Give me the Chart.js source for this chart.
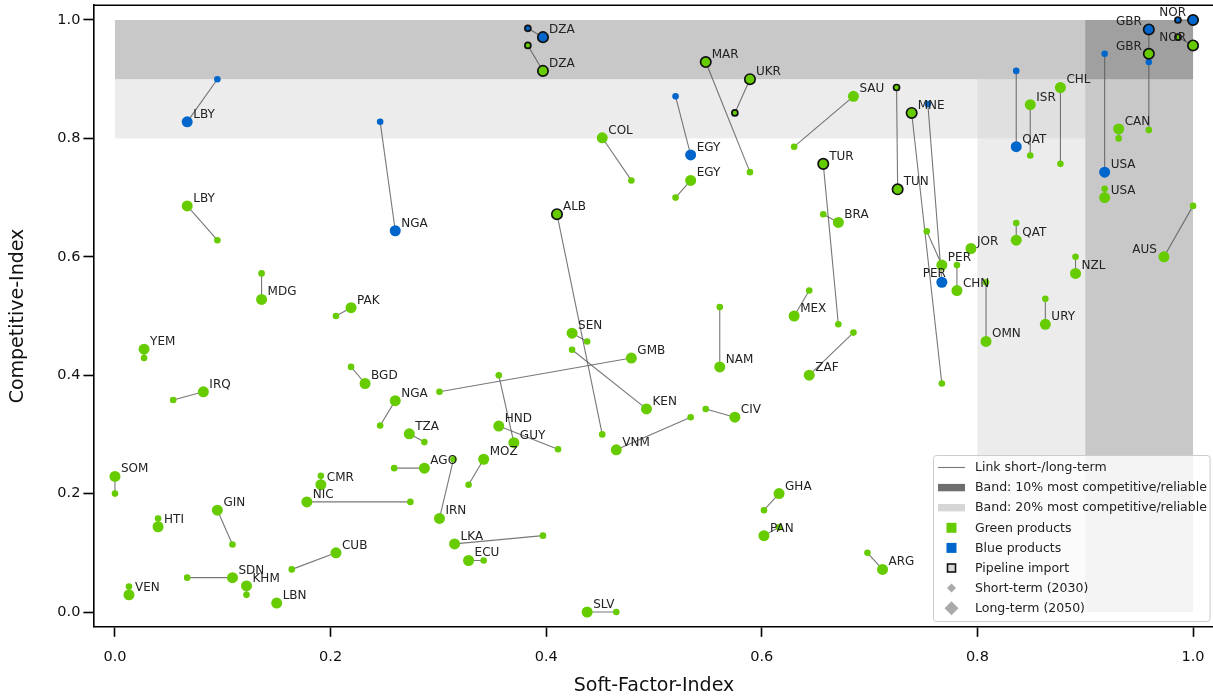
<!DOCTYPE html>
<html>
<head>
<meta charset="utf-8">
<script src="https://cdn.jsdelivr.net/npm/chart.js@4.4.1/dist/chart.umd.min.js"></script>
<style>
  html, body { margin: 0; padding: 0; background: #fff; overflow: hidden; }
  #wrap { width: 1216px; height: 697px; }
</style>
</head>
<body>
<div id="wrap"><canvas id="chart"></canvas></div>
<script>
// ===== Data =====
const codes = [
  'LBY','NGA','DZA','EGY','PER','QAT','USA','GBR','NOR',
  'LBY','DZA','MAR','UKR','SAU','EGY','COL','TUR','TUN','MNE','ALB','BRA','GBR','NOR','CAN','USA','ISR','CHL','AUS','QAT','JOR','PER','CHN','OMN','NZL','URY',
  'MDG','PAK','YEM','IRQ','BGD','NGA','TZA','GMB','SEN','KEN','NAM','MEX','ZAF','CIV','VNM','HND','GUY',
  'SOM','HTI','GIN','VEN','SDN','KHM','LBN','CUB','CMR','NIC','AGO','IRN','MOZ','LKA','ECU','SLV','GHA','PAN','ARG'
];
const product = codes.map((c, i) => i < 9 ? 'blue' : 'green');

// short-term (2030)
const shortX = [
  0.095,0.246,0.383,0.520,0.754,0.836,0.918,0.959,0.986,
  0.095,0.383,0.589,0.575,0.630,0.520,0.479,0.671,0.725,0.767,0.452,0.657,0.959,0.986,0.931,0.918,0.849,0.877,1.000,0.836,0.794,0.753,0.781,0.808,0.891,0.863,
  0.136,0.205,0.027,0.054,0.219,0.246,0.287,0.301,0.438,0.424,0.561,0.644,0.685,0.548,0.534,0.411,0.356,
  0.000,0.040,0.109,0.013,0.067,0.122,0.150,0.164,0.191,0.274,0.259,0.314,0.328,0.397,0.342,0.465,0.602,0.616,0.698
];
const shortY = [
  0.900,0.828,0.986,0.871,0.858,0.914,0.943,0.929,1.000,
  0.628,0.957,0.743,0.843,0.786,0.700,0.729,0.486,0.886,0.386,0.300,0.672,0.814,0.971,0.800,0.715,0.771,0.757,0.686,0.657,0.612,0.643,0.586,0.557,0.600,0.529,
  0.572,0.500,0.429,0.358,0.414,0.315,0.287,0.372,0.457,0.443,0.515,0.543,0.472,0.343,0.329,0.275,0.400,
  0.200,0.158,0.114,0.043,0.058,0.029,0.015,0.072,0.230,0.186,0.243,0.258,0.215,0.129,0.087,0.000,0.172,0.143,0.100
];
// long-term (2050)
const longX = [
  0.067,0.260,0.397,0.534,0.767,0.836,0.918,0.959,1.000,
  0.067,0.397,0.548,0.589,0.685,0.534,0.452,0.657,0.726,0.739,0.410,0.671,0.959,1.000,0.931,0.918,0.849,0.877,0.973,0.836,0.794,0.767,0.781,0.808,0.891,0.863,
  0.136,0.219,0.027,0.082,0.232,0.260,0.273,0.479,0.424,0.493,0.561,0.630,0.644,0.575,0.465,0.356,0.370,
  0.000,0.040,0.095,0.013,0.109,0.122,0.150,0.205,0.191,0.178,0.287,0.301,0.342,0.315,0.328,0.438,0.616,0.602,0.712
];
const longY = [
  0.828,0.644,0.971,0.772,0.557,0.786,0.743,0.984,1.000,
  0.686,0.914,0.929,0.900,0.871,0.729,0.801,0.757,0.714,0.843,0.672,0.658,0.943,0.957,0.816,0.700,0.857,0.886,0.600,0.628,0.614,0.586,0.543,0.457,0.572,0.486,
  0.528,0.514,0.444,0.372,0.386,0.357,0.301,0.429,0.471,0.343,0.414,0.500,0.400,0.329,0.274,0.314,0.286,
  0.229,0.144,0.172,0.029,0.058,0.044,0.015,0.100,0.215,0.186,0.243,0.158,0.258,0.115,0.087,0.000,0.200,0.129,0.072
];
// pipeline import markers
const pipelineShort = ['DZA-blue','NOR-blue','DZA-green','UKR-green','TUN-green','NOR-green'];
const pipelineLong = ['DZA-blue','GBR-blue','NOR-blue','DZA-green','MAR-green','UKR-green','TUR-green','TUN-green','MNE-green','ALB-green','GBR-green','NOR-green'];

// bands (10% / 20% most competitive / reliable)
const band20 = [0.8, 0.9];
const band10 = [0.9, 1.0];
const tickValues = [0, 0.2, 0.4, 0.6, 0.8, 1.0];

// ===== Styles =====
const COLORS = { green: '#66cc00', blue: '#0066cc' };
const FONT = "'DejaVu Sans', sans-serif";
const labelLeft = ['GBR-blue','GBR-green','NOR-blue','NOR-green','AUS-green'];
const key = i => codes[i] + '-' + product[i];

const linkSets = codes.map((c, i) => ({
  data: [{ x: shortX[i], y: shortY[i] }, { x: longX[i], y: longY[i] }],
  showLine: true,
  borderColor: 'rgba(85,85,85,0.8)',
  borderWidth: 1.1,
  pointRadius: 0,
  order: 3
}));

function pointSet(xs, ys, pipes, r) {
  return {
    data: codes.map((c, i) => ({ x: xs[i], y: ys[i] })),
    pointRadius: codes.map((c, i) => pipes.includes(key(i)) ? r - 0.3 : r),
    pointBackgroundColor: codes.map((c, i) => COLORS[product[i]]),
    pointBorderColor: codes.map((c, i) => pipes.includes(key(i)) ? '#111' : COLORS[product[i]]),
    pointBorderWidth: codes.map((c, i) => pipes.includes(key(i)) ? 1.7 : 0),
    showLine: false
  };
}
const shortSet = Object.assign(pointSet(shortX, shortY, pipelineShort, 3.3), { order: 1 });
const longSet = Object.assign(pointSet(longX, longY, pipelineLong, 5.5), { order: 0 });

// ===== Plugins =====
const bandsPlugin = {
  id: 'bands',
  beforeDatasetsDraw(chart) {
    const { ctx, scales: { x, y } } = chart;
    const rect = (x0, x1, y0, y1, c) => {
      const px0 = x.getPixelForValue(x0), px1 = x.getPixelForValue(x1);
      const py0 = y.getPixelForValue(y0), py1 = y.getPixelForValue(y1);
      ctx.fillStyle = c;
      ctx.fillRect(px0, py1, px1 - px0, py0 - py1);
    };
    ctx.save();
    rect(0, 1, band20[0], band20[1], '#ececec');
    rect(band20[0], band20[1], 0, 1, '#ececec');
    rect(band20[0], band20[1], band20[0], band20[1], '#e0e0e0');
    rect(0, 1, band10[0], band10[1], '#c8c8c8');
    rect(band10[0], band10[1], 0, 1, '#c8c8c8');
    rect(band10[0], band10[1], band10[0], band10[1], '#a0a0a0');
    ctx.restore();
  }
};

const labelsPlugin = {
  id: 'labels',
  afterDatasetsDraw(chart) {
    const { ctx, scales: { x, y } } = chart;
    ctx.save();
    ctx.font = '12px ' + FONT;
    ctx.fillStyle = '#222';
    ctx.textBaseline = 'alphabetic';
    codes.forEach((c, i) => {
      const px = x.getPixelForValue(longX[i]);
      const py = y.getPixelForValue(longY[i]);
      const k = key(i);
      if (labelLeft.includes(k)) {
        ctx.textAlign = 'right';
        ctx.fillText(c, px - 7, py - 4);
      } else if (k === 'PER-blue') {
        ctx.textAlign = 'right';
        ctx.fillText(c, px + 4, py - 5);
      } else {
        ctx.textAlign = 'left';
        ctx.fillText(c, px + 6, py - 4);
      }
    });
    ctx.restore();
  }
};

const frameLegendPlugin = {
  id: 'frameLegend',
  afterDraw(chart) {
    const { ctx, chartArea: a } = chart;
    ctx.save();
    // top spine
    ctx.strokeStyle = '#000';
    ctx.lineWidth = 1.6;
    ctx.beginPath();
    ctx.moveTo(a.left, a.top);
    ctx.lineTo(a.right, a.top);
    ctx.stroke();

    // legend box
    const lx = 933, ly = 455, lw = a.right - 5 - lx, lh = 166;
    ctx.fillStyle = 'rgba(255,255,255,0.8)';
    ctx.strokeStyle = '#cccccc';
    ctx.lineWidth = 1;
    ctx.beginPath();
    ctx.roundRect(lx + 0.5, ly + 0.5, lw, lh, 3);
    ctx.fill();
    ctx.stroke();

    const hx = 951.5, tx = 975, y0 = 467.5, dy = 20.1;
    const items = [
      'Link short-/long-term',
      'Band: 10% most competitive/reliable',
      'Band: 20% most competitive/reliable',
      'Green products',
      'Blue products',
      'Pipeline import',
      'Short-term (2030)',
      'Long-term (2050)'
    ];
    ctx.font = '12.5px ' + FONT;
    ctx.textAlign = 'left';
    ctx.textBaseline = 'middle';
    items.forEach((t, i) => {
      const cy = y0 + i * dy;
      ctx.fillStyle = '#222';
      ctx.fillText(t, tx, cy + 0.5);
      if (i === 0) {
        ctx.strokeStyle = 'rgba(85,85,85,0.8)';
        ctx.lineWidth = 1.1;
        ctx.beginPath(); ctx.moveTo(938, cy); ctx.lineTo(965, cy); ctx.stroke();
      } else if (i === 1) {
        ctx.fillStyle = '#6e6e6e'; ctx.fillRect(938, cy - 3.7, 27, 7.4);
      } else if (i === 2) {
        ctx.fillStyle = '#d6d6d6'; ctx.fillRect(938, cy - 3.7, 27, 7.4);
      } else if (i === 3 || i === 4) {
        ctx.fillStyle = i === 3 ? COLORS.green : COLORS.blue;
        ctx.fillRect(hx - 5, cy - 5, 10, 10);
      } else if (i === 5) {
        ctx.fillStyle = '#d8d8d8'; ctx.strokeStyle = '#111'; ctx.lineWidth = 1.6;
        ctx.fillRect(hx - 4, cy - 4, 8, 8); ctx.strokeRect(hx - 4, cy - 4, 8, 8);
      } else {
        const s = i === 6 ? 4.5 : 7;
        ctx.fillStyle = '#aaaaaa';
        ctx.beginPath();
        ctx.moveTo(hx, cy - s); ctx.lineTo(hx + s, cy); ctx.lineTo(hx, cy + s); ctx.lineTo(hx - s, cy);
        ctx.closePath(); ctx.fill();
      }
    });
    ctx.restore();
  }
};

// ===== Chart =====
const axisCommon = {
  type: 'linear',
  afterBuildTicks: s => { s.ticks = tickValues.map(v => ({ value: v })); },
  ticks: { color: '#111', font: { family: FONT, size: 14.5 }, callback: v => v.toFixed(1) },
  grid: { drawOnChartArea: false, drawTicks: true, tickLength: 10, tickWidth: 1.6, tickColor: '#000' },
  border: { display: true, color: '#000', width: 1.6 }
};

new Chart(document.getElementById('chart'), {
  type: 'scatter',
  data: { datasets: [longSet, shortSet, ...linkSets] },
  plugins: [bandsPlugin, labelsPlugin, frameLegendPlugin],
  options: {
    responsive: true,
    maintainAspectRatio: false,
    animation: false,
    events: [],
    layout: { autoPadding: false, padding: { top: 5.2, right: 1.4, left: 0, bottom: 0 } },
    plugins: { legend: { display: false }, tooltip: { enabled: false } },
    scales: {
      x: Object.assign({}, axisCommon, {
        min: -0.02, max: 1.02,
        ticks: Object.assign({}, axisCommon.ticks, { padding: 12 }),
        title: { display: true, text: 'Soft-Factor-Index', color: '#111', font: { family: FONT, size: 19 }, padding: { top: 0, bottom: 0 } },
        afterFit: s => { s.height = 70.2; s.paddingLeft = 0; s.paddingRight = 0; }
      }),
      y: Object.assign({}, axisCommon, {
        min: -0.025, max: 1.025,
        ticks: Object.assign({}, axisCommon.ticks, { padding: 3 }),
        title: { display: true, text: 'Competitive-Index', color: '#111', font: { family: FONT, size: 19 }, padding: { top: 6.5, bottom: 0 } },
        afterFit: s => { s.width = 93.4; s.paddingTop = 0; s.paddingBottom = 0; }
      })
    }
  }
});
</script>
</body>
</html>
